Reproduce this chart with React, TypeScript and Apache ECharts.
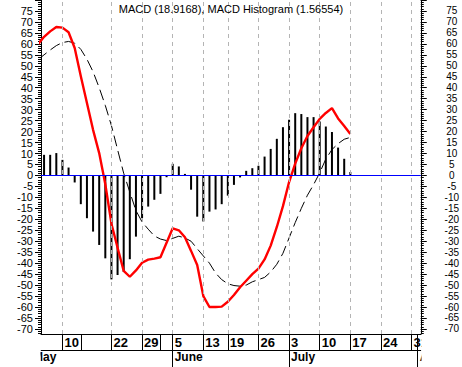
import React, { useEffect, useRef } from "react";
import * as echarts from "echarts";

// ---- data (trading-day index on x) ----
const LINE_START = -1; // first line value lies just before the first bar (clipped at the left edge)
const macdValues = [59.8, 63.2, 65.7, 67.7, 67.4, 65.3, 58.1, 45.2, 33.0, 20.8, 10.2, -4, -22, -33, -43.5, -46.2, -43.3, -39.8, -38.4, -37.9, -37.3, -30.7, -24.1, -25, -28.2, -34.4, -40.8, -55, -60, -60, -59.8, -57.6, -54.5, -51, -48, -45, -42.5, -38.3, -32, -23.5, -14, -3, 5.4, 12.4, 18, 22, 25.8, 28.5, 30.7, 26, 22.5, 18.92];
const signalValues = [52.8, 55, 57.2, 59.2, 60.6, 61.1, 60.3, 57.5, 53, 47.3, 40, 31.9, 22.7, 11.8, 1, -7.6, -16, -21.2, -24.5, -27.6, -29, -29.7, -28.7, -27.7, -28.5, -30, -33.4, -36.7, -40, -44.5, -47.5, -49.4, -50.2, -50.5, -50, -48.5, -47.5, -46.5, -44, -40.5, -35.5, -28.5, -21.5, -15, -9, -4.2, 1.2, 7.5, 11.8, 14.5, 16.5, 17.35];
const HIST_START = 0;
const histValues = [9.4, 9.4, 10.2, 7.1, 3.6, -3.2, -13.1, -19.5, -25.6, -31.7, -37.8, -47.4, -45.4, -44, -38.2, -27.9, -19.5, -14.2, -11.1, -8.4, -0.8, 5.3, 4.1, 0.7, -6.5, -18.8, -21, -16.5, -15.5, -13.1, -9.2, -4.3, -0.9, 2.1, 3.3, 4.4, 8.6, 12.1, 16.7, 22, 25.4, 28.4, 28, 26.6, 26.6, 24.6, 22.3, 19.8, 12.7, 7.6, 1.57];

// date axis
const dateTickIdx = [3, 6, 11, 16, 19, 21, 26, 30, 35, 40, 45, 50, 55, 60, 61];
const dateLabelIdx = [3, 11, 16, 21, 26, 30, 35, 40, 45, 50, 55, 60];
const dateLabels = ["10", "22", "29", "5", "13", "19", "26", "3", "10", "17", "24", "31"];
const gridIdx = [3, 11, 16, 21, 26, 30, 35, 40, 45, 50, 55, 60];
const monthIdx = [21, 40, 61];
const monthLabels = ["June", "July", "Aug"];
const firstMonthLabel = "May";

// y axis
const yLabelValues = [-70, -65, -60, -55, -50, -45, -40, -35, -30, -25, -20, -15, -10, -5, 0, 5, 10, 15, 20, 25, 30, 35, 40, 45, 50, 55, 60, 65, 70, 75];
const yMajorTicks = [...yLabelValues, 80];

const TITLE = "MACD (18.9168), MACD Histogram (1.56554)";

const X_MIN = -0.5;
const X_MAX = 61.5;
const Y_MIN = -72.3;
const Y_MAX = 80;
const FONT = "'Liberation Sans', Arial, sans-serif";

export default function App() {
  const ref = useRef<HTMLDivElement>(null);
  useEffect(() => {
    document.body.style.margin = "0";
    if (!ref.current) return;
    const chart = echarts.init(ref.current, null, { renderer: "svg" });
    const yMinor: number[] = [];
    for (let v = -72; v <= 80; v++) yMinor.push(v);

    const yBase = (position: string) => ({
      type: "value",
      position,
      min: Y_MIN,
      max: Y_MAX,
      splitLine: { show: false },
    });

    chart.setOption({
      animation: false,
      backgroundColor: "#ffffff",
      title: {
        text: TITLE,
        left: "center",
        top: -2,
        textStyle: { fontSize: 11, fontWeight: "normal", color: "#000", fontFamily: FONT },
      },
      grid: { left: 41, right: 41, top: 0, bottom: 33 },
      xAxis: [
        {
          type: "value",
          min: X_MIN,
          max: X_MAX,
          position: "bottom",
          axisLine: { show: true, onZero: false, lineStyle: { color: "#000", width: 1 } },
          axisTick: { show: true, customValues: dateTickIdx, length: 16, lineStyle: { color: "#000", width: 1 } },
          axisLabel: {
            customValues: dateLabelIdx,
            formatter: (v: number) => dateLabels[dateLabelIdx.indexOf(Math.round(v))] ?? "",
            align: "left",
            padding: [0, 0, 0, 2],
            margin: 2,
            fontSize: 13,
            fontWeight: "bold",
            color: "#000",
            fontFamily: FONT,
          },
          splitLine: { show: false },
        },
        {
          type: "value",
          min: X_MIN,
          max: X_MAX,
          position: "bottom",
          offset: 16,
          axisLine: { show: true, onZero: false, lineStyle: { color: "#000", width: 1 } },
          axisTick: { show: true, customValues: monthIdx, length: 17, lineStyle: { color: "#000", width: 1 } },
          axisLabel: {
            customValues: monthIdx,
            formatter: (v: number) => monthLabels[monthIdx.indexOf(Math.round(v))] ?? "",
            align: "left",
            padding: [0, 0, 0, 2],
            margin: 1,
            fontSize: 12,
            fontWeight: "bold",
            color: "#000",
            fontFamily: FONT,
          },
          splitLine: { show: false },
        },
      ],
      yAxis: [
        {
          ...yBase("left"),
          axisLine: { show: true, onZero: false, lineStyle: { color: "#000", width: 1 } },
          axisTick: { show: true, customValues: yMajorTicks, length: 6, lineStyle: { color: "#000" } },
          axisLabel: { customValues: yLabelValues, margin: 8, fontSize: 11, color: "#000", fontFamily: FONT },
        },
        {
          ...yBase("left"),
          axisLine: { show: false, onZero: false },
          axisTick: { show: true, customValues: yMinor, length: 3, lineStyle: { color: "#000" } },
          axisLabel: { show: false },
        },
        {
          ...yBase("right"),
          axisLine: { show: true, onZero: false, lineStyle: { color: "#000", width: 1 } },
          axisTick: { show: true, customValues: yMajorTicks, length: 6, lineStyle: { color: "#000" } },
          axisLabel: { customValues: yLabelValues, margin: 31, align: "center", fontSize: 10, color: "#000", fontFamily: FONT },
        },
        {
          ...yBase("right"),
          axisLine: { show: false, onZero: false },
          axisTick: { show: true, customValues: yMinor, length: 3, lineStyle: { color: "#000" } },
          axisLabel: { show: false },
        },
      ],
      series: [
        {
          // carrier for the vertical dashed grid lines, drawn beneath the bars
          type: "scatter",
          xAxisIndex: 0,
          yAxisIndex: 0,
          data: histValues.map((v, i) => [i + HIST_START, v]),
          symbolSize: 0,
          silent: true,
          z: 1,
          markLine: {
            silent: true,
            symbol: ["none", "none"],
            label: { show: false },
            emphasis: { disabled: true },
            data: gridIdx.map((x) => ({ xAxis: x, lineStyle: { color: "#b4b4b4", width: 1, type: [4, 4] } })),
          },
        },
        {
          type: "bar",
          xAxisIndex: 0,
          yAxisIndex: 0,
          data: histValues.map((v, i) => [i + HIST_START, v]),
          barWidth: 2,
          itemStyle: { color: "#000" },
          z: 2,
          markLine: {
            silent: true,
            symbol: ["none", "none"],
            label: { show: false },
            emphasis: { disabled: true },
            data: [{ yAxis: 0, lineStyle: { color: "#0000ff", width: 1, type: "solid" } }],
          },
        },
        {
          type: "line",
          xAxisIndex: 0,
          yAxisIndex: 0,
          data: signalValues.map((v, i) => [i + LINE_START, v]),
          symbol: "none",
          lineStyle: { color: "#000", width: 1, type: [11, 5] },
          z: 3,
        },
        {
          type: "line",
          xAxisIndex: 0,
          yAxisIndex: 0,
          data: macdValues.map((v, i) => [i + LINE_START, v]),
          symbol: "none",
          lineStyle: { color: "#ff0000", width: 2.4 },
          z: 4,
        },
      ],
      graphic: [
        {
          type: "text",
          left: 33,
          top: 351,
          z: 100,
          style: { text: firstMonthLabel, fill: "#000", font: `bold 12px ${FONT}` },
        },
        { type: "rect", z: 101, shape: { x: 0, y: 340, width: 40.5, height: 27 }, style: { fill: "#fff" } },
        { type: "rect", z: 101, shape: { x: 421.5, y: 336, width: 41, height: 31 }, style: { fill: "#fff" } },
      ],
    });
    return () => chart.dispose();
  }, []);
  return <div ref={ref} style={{ width: 462, height: 367 }} />;
}
